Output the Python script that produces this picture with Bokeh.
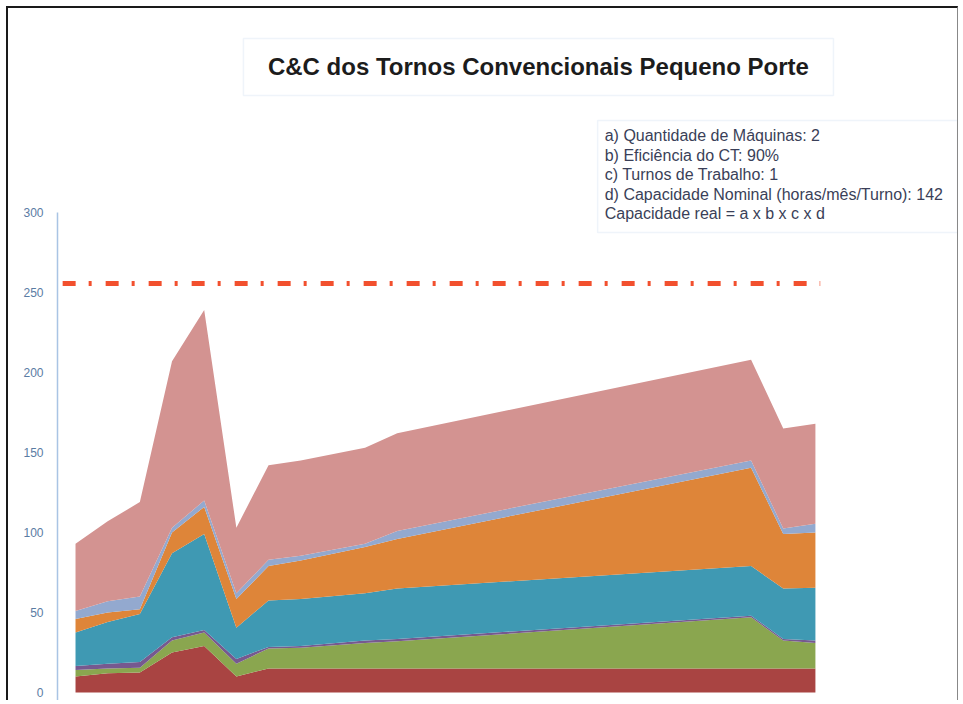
from bokeh.plotting import figure
from bokeh.models import ColumnDataSource, FixedTicker, Range1d, BoxAnnotation, Label
from bokeh.embed import file_html
from bokeh.resources import INLINE

# ---- data ----
periods = [0, 1, 2, 3, 4, 5, 6, 7, 9, 10, 21, 22, 23]
series_names = ["s_red", "s_green", "s_purple", "s_teal", "s_orange", "s_lblue", "s_pink"]
s_red = [10, 12, 12.5, 25, 29, 10, 15, 15, 15, 15, 15, 15, 15]
s_green = [4, 3, 3, 7.5, 8.5, 8, 12.5, 13, 16, 17, 32, 17.5, 16]
s_purple = [2.5, 3, 3.5, 2, 1.5, 3, 1, 1, 1.5, 1.5, 1, 1, 1.5]
s_teal = [21, 26, 30, 52.5, 60, 19.5, 29, 29.5, 29.5, 31.5, 31, 31.5, 33]
s_orange = [8.5, 6, 3, 13, 17, 18, 21.5, 24, 29, 31, 61.5, 34, 34.5]
s_lblue = [5, 7, 8, 3, 4, 3.5, 4, 3, 2, 5, 4.5, 3.5, 5.5]
s_pink = [42, 50, 59, 104, 119, 41, 59, 59.5, 60, 61, 63, 62.5, 62.5]
colors = ["#A94442", "#8AA64F", "#76598F", "#3F99B3", "#DE8539", "#93A9CF", "#D39391"]

y_ticks = [0, 50, 100, 150, 200, 250, 300]

n_machines = 2
efficiency = 0.90
shifts = 1
nominal_capacity = 142
real_capacity = n_machines * efficiency * shifts * nominal_capacity

title_text = "C&C dos Tornos Convencionais Pequeno Porte"
info_lines = [
    "a) Quantidade de Máquinas: 2",
    "b) Eficiência do CT: 90%",
    "c) Turnos de Trabalho: 1",
    "d) Capacidade Nominal (horas/mês/Turno): 142",
    "Capacidade real = a x b x c x d",
]

source = ColumnDataSource(dict(
    x=periods, s_red=s_red, s_green=s_green, s_purple=s_purple, s_teal=s_teal,
    s_orange=s_orange, s_lblue=s_lblue, s_pink=s_pink,
))

p = figure(width=952, height=694, output_backend="svg", toolbar_location=None,
           x_axis_location=None, x_range=Range1d(-0.56, 27.51),
           y_range=Range1d(-6.25, 427.5),
           min_border_left=49, min_border_right=0, min_border_top=0, min_border_bottom=0)
p.styles = {"margin-left": "6px", "margin-top": "6px",
            "border-left": "2px solid #1a1a1a", "border-top": "2px solid #1a1a1a",
            "border-right": "1px solid #888"}
p.outline_line_color = None
p.grid.visible = False
p.background_fill_color = "white"
p.border_fill_color = "white"

p.varea_stack(stackers=series_names, x="x", color=colors, source=source)

yax = p.yaxis[0]
yax.ticker = FixedTicker(ticks=y_ticks)
yax.bounds = (-6.25, 300)
yax.major_tick_line_color = None
yax.minor_tick_line_color = None
yax.axis_line_color = "#a9c4e4"
yax.axis_line_width = 1.5
yax.major_label_text_font = "Liberation Sans"
yax.major_label_text_font_size = "12px"
yax.major_label_text_color = "#5a7ba3"
yax.major_label_standoff = 8

# capacity line
p.line(x=[-0.4, 23.15], y=[real_capacity, real_capacity], line_color="#F2502E",
       line_width=5, line_dash="13 13 3 14")

# title box
p.add_layout(BoxAnnotation(left=5.22, right=23.56, top=408.75, bottom=373.1,
                           fill_color="white", fill_alpha=1, line_color="#c9dcef", line_width=1.5))
p.add_layout(Label(x=14.39, y=391.5, text=title_text, text_align="center",
                   text_baseline="middle", text_font="Liberation Sans", text_font_style="bold",
                   text_font_size="24px", text_color="#1c1c1c"))

# info box
p.add_layout(BoxAnnotation(left=16.23, right=27.42, top=357.5, bottom=287.5,
                           fill_color="white", fill_alpha=1, line_color="#c9dcef", line_width=1.5))
info_y = [348.1, 335.6, 323.75, 311.25, 299.4]
for t, yy in zip(info_lines, info_y):
    p.add_layout(Label(x=16.45, y=yy, text=t, text_align="left", text_baseline="middle",
                       text_font="Liberation Sans", text_font_size="16px", text_color="#3a3f58"))

open("out.html", "w").write(file_html(p, INLINE))
